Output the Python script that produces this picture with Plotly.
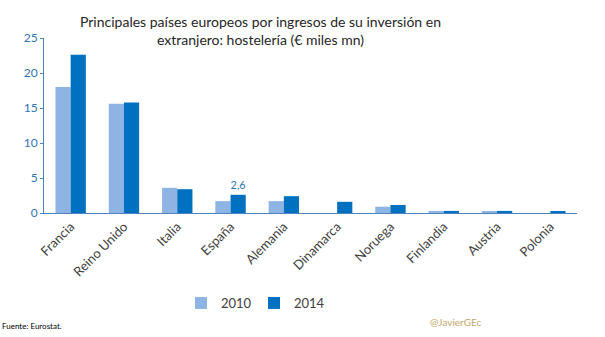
import plotly.graph_objects as go

paises = ["Francia", "Reino Unido", "Italia", "España", "Alemania", "Dinamarca",
          "Noruega", "Finlandia", "Austria", "Polonia"]
v2010 = [18.0, 15.6, 3.6, 1.7, 1.7, 0.0, 0.9, 0.3, 0.15, 0.0]
v2014 = [22.6, 15.8, 3.4, 2.6, 2.4, 1.6, 1.15, 0.3, 0.3, 0.15]
etiquetas_2014 = ["", "", "", "2,6", "", "", "", "", "", ""]
y_ticks = [0, 5, 10, 15, 20, 25]

FONT = "Lato, DejaVu Sans, sans-serif"

fig = go.Figure()
fig.add_trace(go.Bar(x=paises, y=v2010, name="2010", marker_color="#8EB4E3",
                     marker_line_width=0))
fig.add_trace(go.Bar(x=paises, y=v2014, name="2014", marker_color="#0070C0",
                     marker_line_width=0, text=etiquetas_2014,
                     textposition="outside", cliponaxis=False,
                     textfont=dict(color="#2E75B6", size=12, family=FONT)))

fig.update_layout(
    width=605, height=337,
    margin=dict(l=44, r=28, t=38, b=124, autoexpand=False),
    paper_bgcolor="white", plot_bgcolor="white",
    barmode="group", bargap=0.43, bargroupgap=0,
    font=dict(family=FONT, color="#404040"),
    showlegend=True,
    legend=dict(orientation="h", xref="container", yref="container",
                x=254 / 605, xanchor="center", y=1 - 303 / 337, yanchor="middle",
                font=dict(size=13, color="#404040", family=FONT),
                entrywidth=28, entrywidthmode="pixels", traceorder="normal",
                itemwidth=30),
    xaxis=dict(showline=True, linecolor="#4F81BD", linewidth=1, tickangle=-45,
               tickfont=dict(size=13, color="#404040", family=FONT),
               ticks="", showgrid=False, automargin=False),
    yaxis=dict(range=[0, 25], tickvals=y_ticks, showline=True, linecolor="#4F81BD",
               linewidth=1, showgrid=False, zeroline=False, automargin=False,
               tickfont=dict(size=12, color="#2E75B6", family=FONT),
               ticks="outside", ticklen=3, tickcolor="#4F81BD"),
    annotations=[
        dict(text="Principales países europeos por ingresos de su inversión en<br>extranjero: hostelería (€ miles mn)",
             xref="paper", yref="paper", x=(260 - 44) / 533, y=1, yanchor="bottom",
             yshift=-12, showarrow=False, align="center",
             font=dict(size=14, color="#262626", family=FONT)),
        dict(text="Fuente: Eurostat.", xref="paper", yref="paper",
             x=-44 / 533, xanchor="left", y=(213 - 326) / 175, yanchor="middle",
             showarrow=False, font=dict(size=8, color="#000000", family=FONT)),
        dict(text="@JavierGEc", xref="paper", yref="paper",
             x=(428 - 44) / 533, xanchor="left", y=(213 - 322) / 175, yanchor="middle",
             showarrow=False, font=dict(size=10, color="#C4A66B", family=FONT)),
    ],
)

fig.write_html("out.html")
